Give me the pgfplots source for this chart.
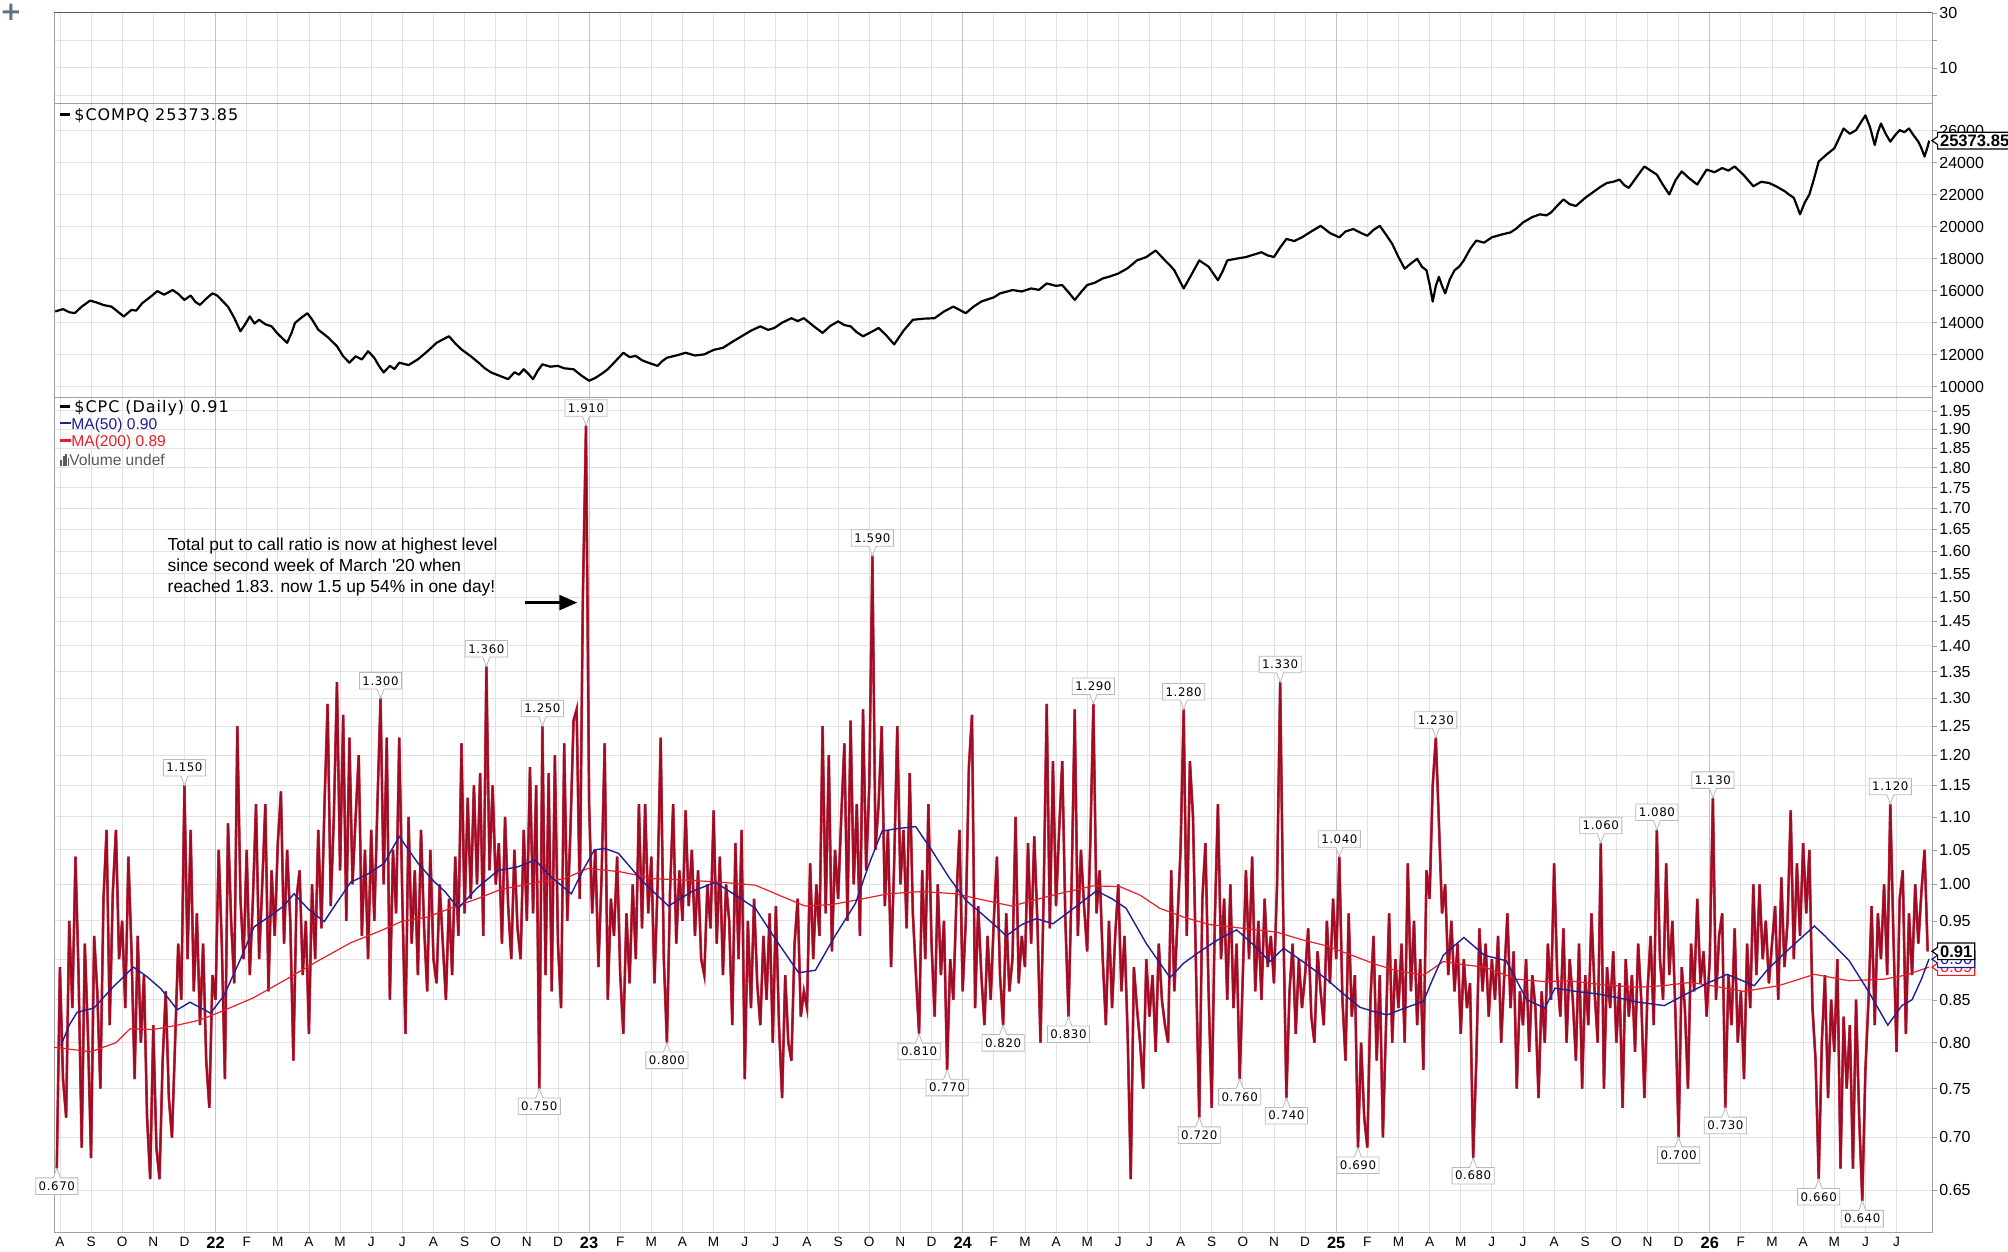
\documentclass[border=0pt]{standalone}
\usepackage{pgfplots}
\pgfplotsset{compat=1.18}
\usepackage{pgfplotstable}
\usetikzlibrary{shapes.callouts,arrows.meta}
\usepackage{fontspec}
\setmainfont{DejaVu Sans}
\newfontfamily\lib{Liberation Sans}
\newfontfamily\legfont[LetterSpace=6]{DejaVu Sans}
\newfontfamily\labfont[LetterSpace=5]{DejaVu Sans}
\definecolor{cpcred}{RGB}{200,16,46}
\definecolor{ma50}{RGB}{30,30,150}
\definecolor{ma200}{RGB}{230,30,40}
\definecolor{gridc}{RGB}{226,226,226}
\definecolor{yearc}{RGB}{196,196,196}
\definecolor{framec}{RGB}{160,160,160}
\definecolor{plusc}{RGB}{95,115,140}
\newcommand{\yr}[1]{{\fontsize{8.2}{9}\selectfont\bfseries #1}}
\tikzset{
 lab/.style={rectangle callout, draw=gray!55, fill=white, line width=0.4pt, inner xsep=1.5pt, inner ysep=1.9pt, font=\labfont\fontsize{5.9}{6}\selectfont, callout pointer width=3.5pt},
 tag/.style={rectangle callout, fill=white, anchor=west, line width=0.6pt, inner xsep=1.2pt, inner ysep=1.2pt, font=\lib\bfseries\fontsize{8.3}{9}\selectfont, callout pointer width=4pt}
}
\newcommand{\hi}[3]{\node[lab, anchor=south, callout absolute pointer={(axis cs:#1,#2)}] at ([yshift=4.5pt]axis cs:#1,#2) {#3};}
\newcommand{\lo}[3]{\node[lab, anchor=north, callout absolute pointer={(axis cs:#1,#2)}] at ([yshift=-4.5pt]axis cs:#1,#2) {#3};}
\pgfplotsset{
 panel/.style={
  scale only axis, width=939pt, xmin=-0.19, xmax=60.14, anchor=south west,
  axis line style={framec},
  xtick={0,...,59}, xticklabel=\empty, xtick style={draw=none},
  extra x ticks={5,17,29,41,53}, extra x tick labels={},
  extra x tick style={tick style={draw=none}, grid=major, major grid style={yearc, line width=0.6pt}},
  grid=major, major grid style={gridc, line width=0.4pt},
  ytick pos=right, yticklabel pos=right, tick align=outside,
  ytick style={framec}, major tick length=2.5pt,
  yticklabel style={font=\lib\fontsize{8}{9}\selectfont, anchor=west, inner sep=0pt, xshift=1pt},
  /pgf/number format/assume math mode=true,
  clip mode=individual,
 }
}
\pgfplotstableread[row sep=\\]{
v\\
0.67\\
0.89\\ 0.76\\ 0.72\\ 0.95\\ 0.84\\ 1.04\\ 0.88\\ 0.69\\ 0.92\\ 0.81\\
0.68\\ 0.93\\ 0.86\\ 0.75\\ 0.98\\ 1.08\\ 0.82\\ 0.99\\ 1.08\\ 0.90\\
0.95\\ 0.84\\ 1.04\\ 0.91\\ 0.76\\ 0.93\\ 0.80\\ 0.88\\ 0.72\\ 0.66\\
0.82\\ 0.69\\ 0.66\\ 0.78\\ 0.86\\ 0.74\\ 0.70\\ 0.80\\ 0.92\\ 0.85\\
1.15\\ 0.90\\ 1.08\\ 0.86\\ 0.96\\ 0.82\\ 0.92\\ 0.78\\ 0.73\\ 0.88\\
0.85\\ 1.05\\ 0.92\\ 0.76\\ 1.09\\ 0.95\\ 0.87\\ 1.25\\ 0.98\\ 0.90\\
1.05\\ 0.88\\ 0.98\\ 1.12\\ 0.90\\ 1.00\\ 1.12\\ 0.86\\ 1.02\\ 0.93\\
1.06\\ 1.14\\ 0.92\\ 1.05\\ 0.95\\ 0.78\\ 0.98\\ 1.02\\ 0.88\\ 0.95\\
0.81\\ 1.00\\ 0.90\\ 1.08\\ 0.94\\ 1.12\\ 1.29\\ 0.97\\ 1.10\\ 1.33\\
1.02\\ 1.27\\ 0.95\\ 1.23\\ 1.00\\ 1.10\\ 1.20\\ 0.93\\ 1.05\\ 0.90\\
1.08\\ 0.95\\ 1.12\\ 1.30\\ 1.00\\ 1.23\\ 0.85\\ 1.05\\ 0.96\\ 1.23\\
0.98\\ 0.81\\ 1.10\\ 0.92\\ 1.02\\ 0.88\\ 1.08\\ 0.94\\ 0.86\\ 1.05\\
0.90\\ 0.87\\ 1.00\\ 0.92\\ 0.85\\ 0.98\\ 0.88\\ 1.04\\ 0.93\\ 1.22\\
0.96\\ 1.13\\ 0.98\\ 1.15\\ 1.00\\ 1.17\\ 0.93\\ 1.36\\ 1.02\\ 1.15\\
1.00\\ 1.06\\ 0.92\\ 1.10\\ 0.97\\ 0.90\\ 1.05\\ 0.94\\ 0.90\\ 1.08\\
0.95\\ 1.18\\ 0.96\\ 1.15\\ 0.75\\ 1.25\\ 0.88\\ 1.17\\ 0.86\\ 1.20\\
0.92\\ 0.84\\ 1.22\\ 0.95\\ 1.08\\ 1.26\\ 1.28\\ 0.98\\ 1.50\\ 1.91\\
1.12\\ 0.96\\ 1.05\\ 0.89\\ 1.01\\ 1.22\\ 0.85\\ 0.98\\ 0.93\\ 1.04\\
0.88\\ 0.81\\ 0.96\\ 0.87\\ 1.00\\ 0.90\\ 1.12\\ 0.94\\ 1.12\\ 0.96\\
1.04\\ 0.87\\ 1.00\\ 1.23\\ 0.90\\ 0.80\\ 0.99\\ 1.12\\ 0.92\\ 1.02\\
0.95\\ 1.11\\ 0.97\\ 1.05\\ 0.93\\ 1.02\\ 0.90\\ 0.88\\ 1.00\\ 0.94\\
1.11\\ 0.92\\ 1.04\\ 0.88\\ 1.00\\ 0.95\\ 0.82\\ 1.06\\ 0.90\\ 1.08\\
0.76\\ 0.95\\ 0.84\\ 0.98\\ 0.87\\ 0.82\\ 0.93\\ 0.85\\ 0.96\\ 0.80\\
0.97\\ 0.82\\ 0.74\\ 0.88\\ 0.80\\ 0.78\\ 0.92\\ 0.98\\ 0.83\\ 0.86\\
0.84\\ 1.03\\ 0.90\\ 1.00\\ 0.93\\ 1.25\\ 0.96\\ 1.20\\ 0.91\\ 1.05\\
0.98\\ 1.10\\ 1.22\\ 0.95\\ 1.26\\ 1.00\\ 1.12\\ 0.93\\ 1.28\\ 1.02\\
1.15\\ 1.59\\ 1.05\\ 1.12\\ 1.25\\ 0.97\\ 1.08\\ 0.89\\ 1.03\\ 1.25\\
1.00\\ 1.08\\ 0.94\\ 1.17\\ 0.96\\ 0.88\\ 0.81\\ 1.02\\ 0.90\\ 1.12\\
0.92\\ 0.83\\ 1.00\\ 0.88\\ 0.95\\ 0.77\\ 0.90\\ 0.85\\ 0.98\\ 1.08\\
0.86\\ 0.95\\ 1.18\\ 1.27\\ 0.84\\ 0.97\\ 0.88\\ 0.82\\ 0.93\\ 0.85\\
0.95\\ 1.04\\ 0.88\\ 0.82\\ 0.96\\ 0.86\\ 0.90\\ 1.10\\ 0.87\\ 0.93\\
0.89\\ 1.06\\ 0.92\\ 1.07\\ 0.95\\ 0.80\\ 0.98\\ 1.29\\ 0.94\\ 1.19\\
0.97\\ 1.08\\ 1.19\\ 0.95\\ 0.83\\ 1.00\\ 1.28\\ 0.93\\ 1.05\\ 0.97\\
0.91\\ 1.06\\ 1.29\\ 0.96\\ 1.02\\ 0.90\\ 0.82\\ 0.95\\ 0.84\\ 0.93\\
1.00\\ 0.86\\ 0.93\\ 0.81\\ 0.66\\ 0.89\\ 0.84\\ 0.80\\ 0.75\\ 0.90\\
0.83\\ 0.88\\ 0.79\\ 0.92\\ 0.85\\ 0.82\\ 0.80\\ 1.02\\ 0.86\\ 0.95\\
1.05\\ 1.28\\ 0.93\\ 1.19\\ 1.10\\ 0.88\\ 0.72\\ 0.98\\ 1.06\\ 0.86\\
0.73\\ 0.95\\ 1.12\\ 0.90\\ 0.98\\ 0.85\\ 1.00\\ 0.84\\ 0.92\\ 0.76\\
0.88\\ 1.02\\ 0.90\\ 1.04\\ 0.86\\ 0.95\\ 0.85\\ 0.98\\ 0.89\\ 0.93\\
0.87\\ 1.00\\ 1.33\\ 0.95\\ 0.74\\ 0.86\\ 0.92\\ 0.81\\ 0.90\\ 0.84\\
0.88\\ 0.94\\ 0.83\\ 0.80\\ 0.91\\ 0.86\\ 0.82\\ 0.95\\ 0.87\\ 0.98\\
0.90\\ 1.04\\ 0.85\\ 0.78\\ 0.96\\ 0.83\\ 0.88\\ 0.69\\ 0.80\\ 0.72\\
0.69\\ 0.85\\ 0.93\\ 0.78\\ 0.88\\ 0.70\\ 0.82\\ 0.96\\ 0.80\\ 0.90\\
0.84\\ 0.92\\ 0.80\\ 1.03\\ 0.86\\ 0.95\\ 0.82\\ 0.90\\ 0.77\\ 1.02\\
0.98\\ 1.15\\ 1.23\\ 1.09\\ 0.96\\ 1.00\\ 0.88\\ 0.95\\ 0.86\\ 0.92\\
0.81\\ 0.90\\ 0.84\\ 0.87\\ 0.68\\ 0.78\\ 0.94\\ 0.86\\ 0.92\\ 0.83\\
0.90\\ 0.85\\ 0.93\\ 0.80\\ 0.88\\ 0.96\\ 0.84\\ 0.91\\ 0.75\\ 0.86\\
0.82\\ 0.90\\ 0.79\\ 0.88\\ 0.84\\ 0.74\\ 0.86\\ 0.80\\ 0.92\\ 0.85\\
1.03\\ 0.88\\ 0.83\\ 0.94\\ 0.80\\ 0.90\\ 0.85\\ 0.78\\ 0.92\\ 0.75\\
0.88\\ 0.82\\ 0.96\\ 0.86\\ 0.80\\ 1.06\\ 0.75\\ 0.89\\ 0.84\\ 0.91\\
0.80\\ 0.87\\ 0.73\\ 0.90\\ 0.83\\ 0.88\\ 0.79\\ 0.92\\ 0.85\\ 0.74\\
0.86\\ 0.93\\ 0.82\\ 1.08\\ 0.90\\ 0.85\\ 1.03\\ 0.88\\ 0.95\\ 0.83\\
0.70\\ 0.89\\ 0.84\\ 0.75\\ 0.92\\ 0.86\\ 0.98\\ 0.87\\ 0.91\\ 0.83\\
0.90\\ 1.13\\ 0.85\\ 0.93\\ 0.96\\ 0.73\\ 0.88\\ 0.82\\ 0.94\\ 0.80\\
0.86\\ 0.76\\ 0.92\\ 0.84\\ 1.00\\ 0.88\\ 1.00\\ 0.90\\ 0.95\\ 0.87\\
0.92\\ 0.97\\ 0.85\\ 1.01\\ 0.89\\ 0.95\\ 1.11\\ 0.90\\ 1.03\\ 0.93\\
1.06\\ 0.96\\ 1.05\\ 0.84\\ 0.78\\ 0.66\\ 0.80\\ 0.88\\ 0.74\\ 0.85\\
0.79\\ 0.90\\ 0.67\\ 0.83\\ 0.75\\ 0.82\\ 0.67\\ 0.85\\ 0.72\\ 0.64\\
0.77\\ 0.85\\ 0.97\\ 0.82\\ 0.96\\ 0.90\\ 1.00\\ 0.88\\ 1.12\\ 0.93\\
0.79\\ 0.98\\ 1.02\\ 0.81\\ 0.96\\ 0.88\\ 1.00\\ 0.92\\ 0.99\\ 1.05\\
0.91\\
}\cpcdata
\begin{document}
\begin{tikzpicture}
\useasboundingbox (0,0) rectangle (1004pt,626pt);
\node[font=\fontsize{13}{13}\selectfont\bfseries, text=plusc, inner sep=0pt] at (5.5pt,620pt) {+};
% ---------- top panel
\begin{axis}[panel, at={(27pt,574.15pt)}, height=45.45pt, ymin=-3.1, ymax=30,
  ytick={0,10,20,30}, yticklabels={,10,,30}]
\addplot[draw=none] coordinates {(0,0)};
\draw[gray!70!black, line width=0.6pt] (rel axis cs:0,1) -- (rel axis cs:1,1);
\end{axis}
% ---------- middle panel
\begin{axis}[panel, at={(27pt,427.5pt)}, height=146.65pt, ymin=9357, ymax=27681,
  ytick={10000,12000,...,26000}, scaled y ticks=false,
  /pgf/number format/1000 sep={}]
\addplot[black, line width=1.1pt, line join=round] coordinates {
(-0.15,14700) (0.1,14850) (0.3,14650) (0.48,14600) (0.7,15000) (0.97,15380) (1.2,15250) (1.4,15100) (1.66,15000) (1.85,14700)
(2.05,14390) (2.3,14800) (2.45,14750) (2.64,15210) (2.9,15600) (3.13,15970) (3.35,15750) (3.62,16040) (3.8,15800) (4.0,15420)
(4.2,15700) (4.35,15300) (4.5,15110) (4.7,15500) (4.9,15830) (5.05,15700) (5.2,15400) (5.4,15000) (5.6,14300) (5.8,13460)
(5.95,13900) (6.1,14390) (6.25,13950) (6.4,14180) (6.6,13900) (6.8,13770) (7.0,13300) (7.3,12740) (7.45,13400) (7.55,13980)
(7.75,14300) (7.95,14590) (8.1,14200) (8.3,13560) (8.6,13100) (8.9,12530) (9.1,11900) (9.3,11500) (9.5,11900) (9.7,11700)
(9.9,12220) (10.1,11800) (10.25,11300) (10.4,10890) (10.6,11300) (10.75,11100) (10.9,11500) (11.2,11350) (11.5,11710) (11.8,12200)
(12.1,12740) (12.3,12950) (12.5,13150) (12.7,12700) (12.9,12330) (13.2,11900) (13.45,11500) (13.65,11150) (13.85,10890) (14.1,10700)
(14.4,10470) (14.6,10900) (14.75,10750) (14.9,11090) (15.05,10800) (15.2,10470) (15.35,11000) (15.5,11400) (15.75,11250) (16.0,11300)
(16.2,11150) (16.5,11090) (16.75,10700) (17.0,10370) (17.2,10550) (17.4,10800) (17.6,11090) (17.85,11600) (18.1,12120) (18.3,11850)
(18.5,11920) (18.7,11650) (18.9,11500) (19.2,11300) (19.35,11600) (19.5,11810) (19.8,11950) (20.1,12120) (20.4,11950) (20.7,12020)
(21.0,12300) (21.3,12430) (21.6,12800) (21.9,13150) (22.2,13500) (22.5,13770) (22.75,13550) (22.95,13670) (23.2,14000) (23.5,14280)
(23.7,14100) (23.9,14280) (24.2,13800) (24.5,13360) (24.75,13800) (25.0,14080) (25.2,13850) (25.4,13770) (25.6,13400) (25.8,13150)
(26.05,13400) (26.3,13670) (26.55,13200) (26.8,12640) (27.1,13500) (27.4,14180) (27.75,14250) (28.1,14280) (28.4,14700) (28.7,15000)
(28.9,14800) (29.1,14590) (29.35,15000) (29.6,15320) (30.0,15580) (30.2,15830) (30.4,15930) (30.6,16040) (30.9,15950) (31.2,16140)
(31.45,16050) (31.7,16450) (32.0,16300) (32.2,16350) (32.4,15900) (32.6,15420) (32.8,15900) (33.0,16350) (33.25,16500) (33.5,16760)
(33.75,16900) (34.0,17070) (34.3,17400) (34.6,17890) (34.9,18100) (35.2,18510) (35.35,18200) (35.5,17890) (35.65,17600) (35.8,17270)
(35.95,16700) (36.1,16140) (36.35,17000) (36.6,17890) (36.9,17500) (37.2,16650) (37.35,17200) (37.5,17890) (37.8,18000) (38.1,18100)
(38.35,18250) (38.6,18400) (38.8,18200) (39.0,18100) (39.2,18700) (39.4,19230) (39.65,19100) (39.9,19330) (40.2,19700) (40.5,20050)
(40.8,19600) (41.1,19330) (41.3,19700) (41.55,19850) (41.8,19600) (42.0,19430) (42.2,19800) (42.4,20050) (42.6,19500) (42.8,18920)
(43.0,18100) (43.2,17370) (43.4,17700) (43.6,17990) (43.75,17500) (43.9,17270) (44.0,16400) (44.1,15320) (44.2,16300) (44.3,16860)
(44.4,16300) (44.5,15830) (44.65,16700) (44.8,17270) (44.95,17500) (45.1,17890) (45.3,18600) (45.5,19130) (45.75,19000) (46.0,19330)
(46.3,19500) (46.6,19640) (46.8,19900) (47.0,20260) (47.3,20600) (47.55,20770) (47.75,20700) (47.9,20880) (48.1,21300) (48.3,21700)
(48.5,21400) (48.7,21290) (49.0,21800) (49.3,22220) (49.5,22500) (49.7,22730) (49.9,22800) (50.1,22940) (50.25,22600) (50.4,22420)
(50.65,23100) (50.9,23760) (51.1,23500) (51.3,23250) (51.5,22600) (51.7,22010) (51.9,22900) (52.1,23450) (52.35,23000) (52.6,22630)
(52.75,23100) (52.9,23560) (53.15,23400) (53.4,23660) (53.6,23500) (53.8,23760) (54.1,23200) (54.4,22520) (54.65,22800) (54.9,22730)
(55.15,22500) (55.4,22220) (55.55,22000) (55.7,21800) (55.8,21300) (55.9,20770) (56.05,21500) (56.2,22010) (56.35,23000) (56.5,24070)
(56.75,24500) (57.0,24890) (57.15,25500) (57.3,26130) (57.5,25800) (57.7,26030) (57.85,26500) (58.0,26950) (58.15,26200) (58.3,25100)
(58.4,25900) (58.5,26440) (58.65,25800) (58.8,25310) (58.95,25700) (59.1,26030) (59.25,25900) (59.4,26130) (59.55,25700) (59.7,25310)
(59.8,24900) (59.9,24380) (60.0,25000) (60.05,25373.85)
};
\node[anchor=west, inner sep=0pt, font=\legfont\fontsize{8}{9}\selectfont] at ([xshift=3pt,yshift=-5.8pt]rel axis cs:0,1) {\rule[2.3pt]{5pt}{1.4pt}\hspace{2pt}\$COMPQ 25373.85};
\coordinate (pq) at (axis cs:60.14,25373.85);
\end{axis}
\node[tag, draw=black, callout absolute pointer={(pq)}] at ([xshift=2.5pt]pq) {25373.85};
% ---------- bottom panel
\begin{axis}[panel, at={(27pt,10pt)}, height=417.5pt, ymode=log, ymin=0.6126, ymax=1.9887,
  ytick={0.65,0.70,0.75,0.80,0.85,0.90,0.95,1.00,1.05,1.10,1.15,1.20,1.25,1.30,1.35,1.40,1.45,1.50,1.55,1.60,1.65,1.70,1.75,1.80,1.85,1.90,1.95},
  yticklabels={0.65,0.70,0.75,0.80,0.85,0.90,0.95,1.00,1.05,1.10,1.15,1.20,1.25,1.30,1.35,1.40,1.45,1.50,1.55,1.60,1.65,1.70,1.75,1.80,1.85,1.90,1.95},
  xticklabels={A,S,O,N,D,\yr{22},F,M,A,M,J,J,A,S,O,N,D,\yr{23},F,M,A,M,J,J,A,S,O,N,D,\yr{24},F,M,A,M,J,J,A,S,O,N,D,\yr{25},F,M,A,M,J,J,A,S,O,N,D,\yr{26},F,M,A,M,J,J},
  xticklabel style={font=\lib\fontsize{6.8}{8}\selectfont, anchor=north, inner sep=0pt, yshift=0pt}]
\addplot[black, line width=1.0pt] table[x expr=\coordindex*0.1-0.1, y=v] {\cpcdata};
\addplot[cpcred, line width=1.35pt, opacity=0.8] table[x expr=\coordindex*0.1-0.1, y=v] {\cpcdata};
\addplot[ma200, line width=0.6pt] coordinates {
(-0.19,0.795) (1.0,0.79) (1.8,0.80) (2.26,0.816) (3.0,0.815) (3.77,0.82) (4.5,0.826) (5.25,0.837) (6.2,0.852) (7.19,0.873)
(8.3,0.898) (9.34,0.921) (10.2,0.935) (10.97,0.949) (11.8,0.955) (12.55,0.967) (13.4,0.980) (14.16,0.993) (15.34,1.003) (16.2,1.008)
(16.97,1.023) (18.0,1.018) (19.11,1.008) (20.2,1.006) (21.26,1.003) (22.34,0.999) (23.1,0.985) (23.94,0.970) (24.8,0.972) (25.55,0.978)
(26.62,0.987) (27.7,0.990) (28.77,0.987) (29.7,0.978) (30.58,0.970) (31.9,0.985) (33.18,0.998) (34.05,0.997) (34.7,0.985) (35.33,0.967)
(36.1,0.955) (36.93,0.945) (38.0,0.940) (39.08,0.935) (39.9,0.925) (40.69,0.917) (41.5,0.905) (42.3,0.893) (43.0,0.885) (43.81,0.880)
(44.44,0.897) (45.1,0.893) (45.76,0.89) (46.8,0.875) (47.7,0.872) (48.49,0.873) (49.6,0.868) (50.71,0.865) (51.5,0.867) (52.4,0.871)
(53.2,0.866) (54.1,0.86) (55.21,0.867) (55.8,0.874) (56.36,0.881) (57.48,0.873) (58.6,0.875) (59.3,0.880) (60.04,0.89)
};
\addplot[ma50, line width=0.7pt] coordinates {
(0.03,0.797) (0.3,0.82) (0.55,0.835) (1.09,0.84) (1.7,0.865) (2.36,0.89) (2.8,0.878) (3.25,0.863) (3.77,0.838) (4.18,0.847)
(4.84,0.834) (5.27,0.855) (5.8,0.90) (6.24,0.942) (6.7,0.955) (7.19,0.970) (7.52,0.987) (8.0,0.965) (8.49,0.949) (8.9,0.975)
(9.34,1.003) (9.9,1.015) (10.41,1.03) (10.9,1.07) (11.2,1.05) (11.51,1.03) (12.0,1.005) (12.37,0.99) (12.8,0.967) (13.4,0.995)
(14.08,1.02) (14.7,1.025) (15.26,1.035) (15.8,1.01) (16.43,0.987) (16.8,1.02) (17.17,1.05) (17.5,1.052) (17.94,1.045) (18.7,1.005)
(19.55,0.97) (20.3,0.99) (21.05,1.003) (21.7,0.985) (22.34,0.967) (23.0,0.925) (23.73,0.883) (24.27,0.886) (24.9,0.93) (25.56,0.974)
(26.0,1.03) (26.41,1.078) (26.9,1.082) (27.49,1.085) (28.0,1.05) (28.56,1.01) (29.1,0.978) (29.6,0.96) (30.09,0.942) (30.4,0.93)
(30.9,0.945) (31.37,0.953) (31.9,0.946) (32.6,0.968) (33.3,0.991) (33.8,0.98) (34.25,0.967) (34.9,0.92) (35.66,0.877) (36.1,0.895)
(36.63,0.91) (37.2,0.925) (37.8,0.938) (38.3,0.92) (38.87,0.897) (39.31,0.914) (40.0,0.895) (40.69,0.875) (41.2,0.858) (41.76,0.841)
(42.2,0.836) (42.63,0.832) (43.2,0.84) (43.8,0.848) (44.1,0.875) (44.44,0.905) (45.1,0.928) (45.76,0.905) (46.46,0.898) (47.12,0.85)
(47.7,0.84) (48.03,0.864) (48.7,0.86) (49.4,0.857) (50.1,0.852) (50.71,0.847) (51.54,0.843) (52.3,0.858) (52.98,0.871) (53.56,0.881)
(54.43,0.867) (54.88,0.888) (55.6,0.915) (56.36,0.943) (56.7,0.93) (57.48,0.898) (58.1,0.86) (58.72,0.82) (59.17,0.843) (59.5,0.85)
(59.8,0.875) (60.04,0.90)
};
\node[anchor=west, inner sep=0pt, font=\legfont\fontsize{8}{9}\selectfont] at ([xshift=3pt,yshift=-5.5pt]rel axis cs:0,1) {\rule[2.3pt]{5pt}{1.4pt}\hspace{2pt}\$CPC (Daily) 0.91};
\node[anchor=west, inner sep=0pt, font=\lib\fontsize{7.8}{9}\selectfont, text=ma50] at ([xshift=3pt,yshift=-14pt]rel axis cs:0,1) {\rule[2.3pt]{5.5pt}{1.4pt}MA(50) 0.90};
\node[anchor=west, inner sep=0pt, font=\lib\fontsize{7.8}{9}\selectfont, text=ma200] at ([xshift=3pt,yshift=-22.8pt]rel axis cs:0,1) {\rule[2.3pt]{5.5pt}{1.4pt}MA(200) 0.89};
\node[anchor=west, inner sep=0pt, font=\lib\fontsize{7.8}{9}\selectfont, text=black!65] at ([xshift=3pt,yshift=-31.4pt]rel axis cs:0,1) {\rule{0.9pt}{3pt}\hspace{0.3pt}\rule{0.9pt}{5pt}\hspace{0.3pt}\rule{0.9pt}{6pt}\hspace{0.3pt}\rule{0.9pt}{4pt}Volume undef};
\node[anchor=north west, inner sep=0pt, align=left, font=\lib\fontsize{8.7}{10.3}\selectfont] at (axis cs:3.45,1.63) {Total put to call ratio is now at highest level\\since second week of March '20 when\\reached 1.83. now 1.5 up 54\% in one day!};
\draw[black, line width=1.25pt, -{Triangle[length=9pt,width=7.5pt]}] (axis cs:14.94,1.488) -- (axis cs:16.62,1.488);
\lo{-0.1}{0.67}{0.670}
\hi{4.0}{1.15}{1.150}
\hi{10.3}{1.30}{1.300}
\hi{13.7}{1.36}{1.360}
\hi{15.5}{1.25}{1.250}
\lo{15.4}{0.75}{0.750}
\hi{16.9}{1.91}{1.910}
\lo{19.5}{0.80}{0.800}
\hi{26.1}{1.59}{1.590}
\lo{27.6}{0.81}{0.810}
\lo{28.5}{0.77}{0.770}
\lo{30.3}{0.82}{0.820}
\lo{32.4}{0.83}{0.830}
\hi{33.2}{1.29}{1.290}
\hi{36.1}{1.28}{1.280}
\lo{36.6}{0.72}{0.720}
\lo{37.9}{0.76}{0.760}
\hi{39.2}{1.33}{1.330}
\lo{39.4}{0.74}{0.740}
\hi{41.1}{1.04}{1.040}
\lo{41.7}{0.69}{0.690}
\hi{44.2}{1.23}{1.230}
\lo{45.4}{0.68}{0.680}
\hi{49.5}{1.06}{1.060}
\hi{51.3}{1.08}{1.080}
\lo{52.0}{0.70}{0.700}
\hi{53.1}{1.13}{1.130}
\lo{53.5}{0.73}{0.730}
\lo{56.5}{0.66}{0.660}
\lo{57.9}{0.64}{0.640}
\hi{58.8}{1.12}{1.120}
\coordinate (p91) at (axis cs:60.14,0.91);
\coordinate (p90) at (axis cs:60.14,0.90);
\coordinate (p89) at (axis cs:60.14,0.89);
\end{axis}
\node[tag, draw=ma200, text=ma200, font=\lib\fontsize{8.3}{9}\selectfont, callout absolute pointer={(p89)}] at ([xshift=2.5pt]p89) {0.89};
\node[tag, draw=ma50, text=ma50, font=\lib\fontsize{8.3}{9}\selectfont, callout absolute pointer={(p90)}] at ([xshift=2.5pt]p90) {0.90};
\node[tag, draw=black, callout absolute pointer={(p91)}] at ([xshift=2.5pt]p91) {0.91};
\end{tikzpicture}
\end{document}
